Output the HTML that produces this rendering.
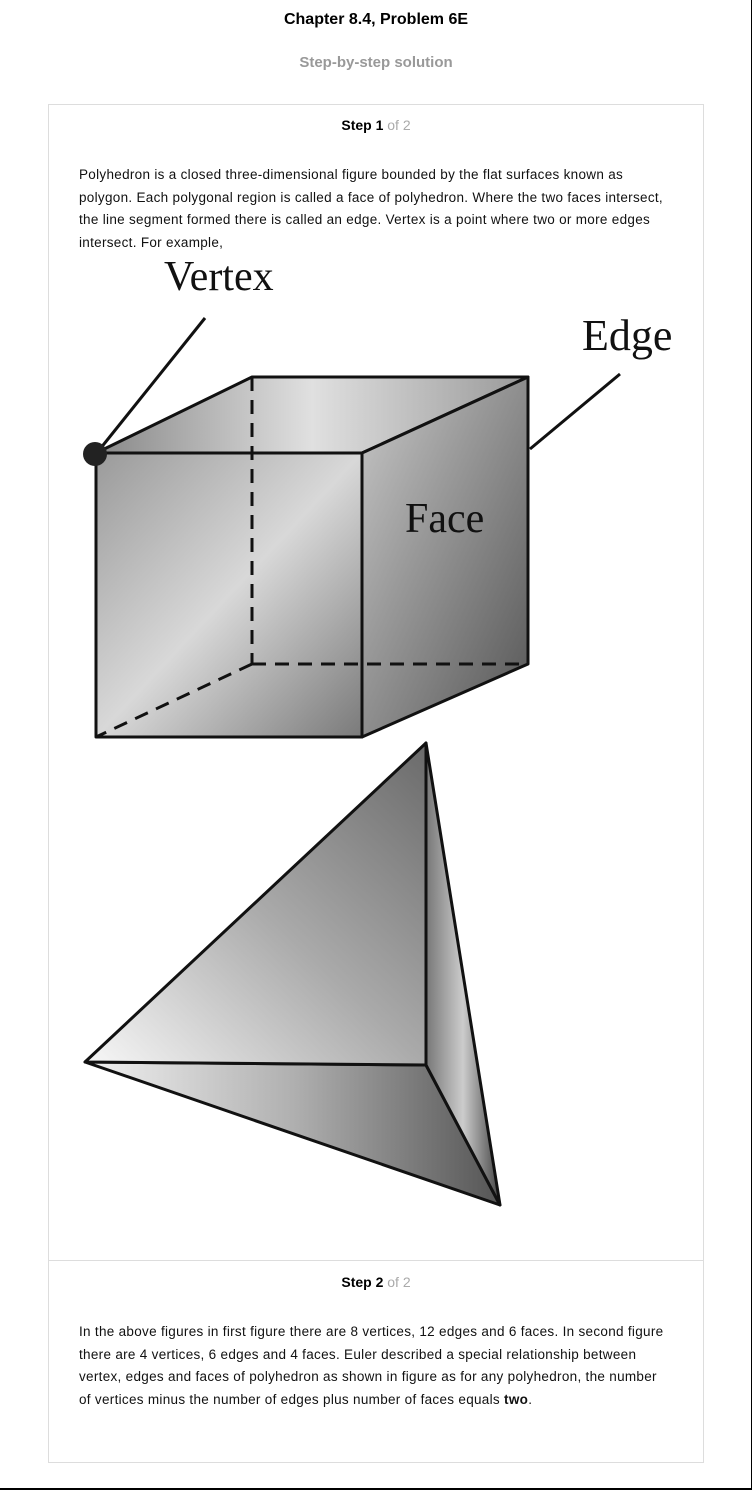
<!DOCTYPE html>
<html><head><meta charset="utf-8"><style>
html,body{margin:0;padding:0;background:#fff;}
body{width:752px;height:1490px;position:relative;overflow:hidden;font-family:"Liberation Sans",Arial,sans-serif;}
.abs{position:absolute;}
h1{position:absolute;top:11px;left:0;width:752px;margin:0;text-align:center;font-size:16px;font-weight:bold;color:#000;}
h2{position:absolute;top:54px;left:0;width:752px;margin:0;text-align:center;font-size:15px;font-weight:bold;color:#999;}
.card{position:absolute;left:48px;top:104px;width:654px;height:1357px;border:1px solid #ddd;}
.divider{position:absolute;left:48px;top:1260px;width:655px;height:1px;background:#ddd;}
.step{position:absolute;left:0;width:752px;text-align:center;font-size:14px;font-weight:bold;color:#000;}
.step span{font-weight:normal;color:#aaa;}
.txt{position:absolute;left:79px;width:640px;font-size:13.5px;line-height:22.5px;color:#111;letter-spacing:0.3px;white-space:nowrap;}
</style></head><body>
<h1>Chapter 8.4, Problem 6E</h1>
<h2>Step-by-step solution</h2>
<div class="card"></div>
<div class="divider"></div>
<div class="step" style="top:117px">Step 1 <span>of 2</span></div>
<div class="txt" style="top:164px">Polyhedron is a closed three-dimensional figure bounded by the flat surfaces known as<br>polygon. Each polygonal region is called a face of polyhedron. Where the two faces intersect,<br>the line segment formed there is called an edge. Vertex is a point where two or more edges<br>intersect. For example,</div>
<svg class="abs" style="left:0;top:250px" width="752" height="1000">
<defs>
<linearGradient id="gf" x1="0" y1="0" x2="1" y2="1"><stop offset="0" stop-color="#9a9a9a"/><stop offset="0.5" stop-color="#d8d8d8"/><stop offset="1" stop-color="#7a7a7a"/></linearGradient>
<linearGradient id="gt" x1="0" y1="0" x2="1" y2="0"><stop offset="0" stop-color="#888"/><stop offset="0.5" stop-color="#e0e0e0"/><stop offset="1" stop-color="#999"/></linearGradient>
<linearGradient id="gr" x1="0" y1="0" x2="1" y2="1"><stop offset="0" stop-color="#c8c8c8"/><stop offset="0.4" stop-color="#999"/><stop offset="1" stop-color="#555"/></linearGradient>
<linearGradient id="tl" x1="0" y1="1" x2="1" y2="0"><stop offset="0" stop-color="#f8f8f8"/><stop offset="0.5" stop-color="#aaa"/><stop offset="1" stop-color="#6a6a6a"/></linearGradient>
<linearGradient id="tb" x1="0" y1="0" x2="1" y2="0"><stop offset="0" stop-color="#f2f2f2"/><stop offset="0.5" stop-color="#b0b0b0"/><stop offset="1" stop-color="#555"/></linearGradient>
<linearGradient id="trr" x1="0" y1="0" x2="1" y2="0"><stop offset="0" stop-color="#777"/><stop offset="0.5" stop-color="#ccc"/><stop offset="1" stop-color="#444"/></linearGradient>
</defs>
<g transform="translate(0,-250)" stroke="#111" stroke-width="3" stroke-linejoin="round">
<polygon points="96,453 252,377 528,377 362,453" fill="url(#gt)"/>
<polygon points="362,453 528,377 528,664 362,737" fill="url(#gr)"/>
<polygon points="96,453 362,453 362,737 96,737" fill="url(#gf)"/>
<g stroke-dasharray="14,9" fill="none">
<line x1="252" y1="377" x2="252" y2="664"/><line x1="252" y1="664" x2="528" y2="664"/><line x1="252" y1="664" x2="96" y2="737"/></g>
<line x1="100" y1="449" x2="205" y2="318"/>
<line x1="530" y1="449" x2="620" y2="374"/>
<circle cx="95" cy="454" r="12" fill="#222" stroke="none"/>
<polygon points="85,1062 426,1065 500,1205" fill="url(#tb)"/>
<polygon points="85,1062 426,743 426,1065" fill="url(#tl)"/>
<polygon points="426,743 500,1205 426,1065" fill="url(#trr)"/>
<g stroke="none" fill="#111" font-family="Liberation Serif,serif" font-size="42">
<text x="164" y="290">Vertex</text>
<text x="582" y="350" font-size="44">Edge</text>
<text x="405" y="532">Face</text></g>
</g></svg>
<div class="step" style="top:1274px">Step 2 <span>of 2</span></div>
<div class="txt" style="top:1321px">In the above figures in first figure there are 8 vertices, 12 edges and 6 faces. In second figure<br>there are 4 vertices, 6 edges and 4 faces. Euler described a special relationship between<br>vertex, edges and faces of polyhedron as shown in figure as for any polyhedron, the number<br>of vertices minus the number of edges plus number of faces equals <b>two</b>.</div>
<div class="abs" style="left:0;top:1488px;width:752px;height:2px;background:#000"></div>
<div class="abs" style="left:751px;top:0;width:1px;height:1490px;background:#000"></div>
</body></html>
